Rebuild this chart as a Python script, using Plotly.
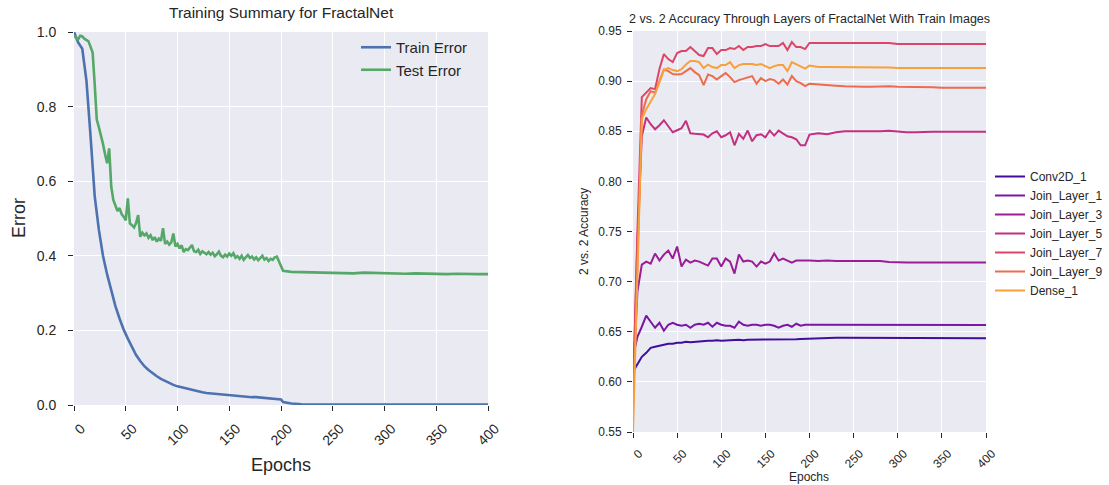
import plotly.graph_objects as go

# ---------------- Left chart data ----------------
train_epochs = list(range(0, 201, 4)) + [202] + list(range(210, 401, 10))
train_error = [1.0, 0.972, 0.955, 0.87, 0.72, 0.56, 0.47, 0.40, 0.35, 0.305,
               0.265, 0.232, 0.202, 0.178, 0.157, 0.134, 0.118, 0.104, 0.094, 0.085,
               0.077, 0.070, 0.064, 0.059, 0.054, 0.050, 0.047, 0.044, 0.041, 0.038,
               0.036, 0.034, 0.032, 0.031, 0.030, 0.029, 0.027, 0.026, 0.025, 0.024,
               0.023, 0.022, 0.022, 0.021, 0.021, 0.020, 0.019, 0.019, 0.018, 0.017,
               0.015, 0.008,
               0.004, 0.002, 0.0015, 0.0015, 0.001, 0.001, 0.001, 0.001, 0.001, 0.001,
               0.001, 0.001, 0.001, 0.001, 0.001, 0.001, 0.001, 0.001, 0.001, 0.001]

test_epochs = list(range(0, 203, 2)) + list(range(210, 401, 10))
test_error = [0.990, 0.985, 0.980, 0.990, 0.988, 0.982, 0.978, 0.975, 0.960, 0.945,
              0.860, 0.765, 0.745, 0.725, 0.700, 0.672, 0.648, 0.688, 0.585, 0.550,
              0.535, 0.520, 0.528, 0.512, 0.505, 0.495, 0.554, 0.487, 0.482, 0.476,
              0.488, 0.509, 0.451, 0.462, 0.455, 0.460, 0.448, 0.455, 0.442, 0.450,
              0.438, 0.446, 0.440, 0.474, 0.432, 0.438, 0.430, 0.436, 0.460, 0.425,
              0.432, 0.420, 0.428, 0.410, 0.418, 0.415, 0.422, 0.429, 0.412, 0.410,
              0.416, 0.405, 0.412, 0.408, 0.404, 0.410, 0.403, 0.408, 0.399, 0.404,
              0.411, 0.400, 0.396, 0.403, 0.398, 0.406, 0.400, 0.407, 0.395, 0.399,
              0.392, 0.400, 0.389, 0.396, 0.402, 0.394, 0.398, 0.390, 0.396, 0.388,
              0.395, 0.400, 0.390, 0.394, 0.386, 0.392, 0.389, 0.396, 0.398, 0.384,
              0.372, 0.360,
              0.357, 0.356, 0.355, 0.356, 0.354, 0.354, 0.353, 0.355, 0.354, 0.352,
              0.353, 0.352, 0.353, 0.352, 0.352, 0.351, 0.352, 0.351, 0.351, 0.351]

# ---------------- Right chart data ----------------
acc_epochs = list(range(0, 201, 5)) + list(range(210, 401, 10))
layer_names = ["Conv2D_1", "Join_Layer_1", "Join_Layer_3", "Join_Layer_5",
               "Join_Layer_7", "Join_Layer_9", "Dense_1"]

conv2d_1 = [0.610, 0.617, 0.625, 0.629, 0.634, 0.635, 0.636, 0.637, 0.638, 0.638,
            0.639, 0.639, 0.640, 0.6395, 0.640, 0.640, 0.641, 0.641, 0.641, 0.6415,
            0.641, 0.6415, 0.642, 0.6418, 0.642, 0.6415, 0.642, 0.642, 0.642, 0.6418,
            0.642, 0.6425, 0.642, 0.6425, 0.6425, 0.6425, 0.642, 0.6425, 0.6428, 0.643,
            0.643,
            0.6435, 0.6438, 0.644, 0.644, 0.644, 0.644, 0.6435, 0.6435, 0.6435, 0.6435,
            0.6435, 0.6435, 0.6435, 0.6435, 0.6435, 0.6435, 0.6435, 0.6435, 0.6435, 0.6435]

join_layer_1 = [0.625, 0.645, 0.655, 0.666, 0.660, 0.654, 0.659, 0.651, 0.657, 0.659,
                0.657, 0.656, 0.657, 0.654, 0.657, 0.658, 0.657, 0.659, 0.655, 0.659,
                0.657, 0.656, 0.656, 0.654, 0.660, 0.657, 0.656, 0.657, 0.657, 0.656,
                0.657, 0.657, 0.656, 0.654, 0.656, 0.657, 0.655, 0.658, 0.656, 0.657,
                0.657,
                0.657, 0.6568, 0.657, 0.657, 0.6568, 0.657, 0.657, 0.6568, 0.6568, 0.6568,
                0.6568, 0.6565, 0.6568, 0.6568, 0.6565, 0.6568, 0.6568, 0.6568, 0.6568, 0.6568]

join_layer_3 = [0.600, 0.690, 0.717, 0.720, 0.718, 0.728, 0.721, 0.727, 0.731, 0.723,
                0.735, 0.715, 0.722, 0.719, 0.721, 0.720, 0.718, 0.716, 0.723, 0.723,
                0.715, 0.723, 0.720, 0.708, 0.727, 0.720, 0.721, 0.720, 0.715, 0.720,
                0.718, 0.720, 0.728, 0.721, 0.723, 0.721, 0.719, 0.721, 0.721, 0.7215,
                0.721,
                0.7205, 0.721, 0.7205, 0.7205, 0.721, 0.7205, 0.7205, 0.7205, 0.7195, 0.719,
                0.719, 0.719, 0.719, 0.719, 0.7192, 0.7192, 0.719, 0.719, 0.719, 0.719]

join_layer_5 = [0.590, 0.740, 0.845, 0.8638, 0.857, 0.852, 0.856, 0.861, 0.855, 0.849,
                0.851, 0.853, 0.8605, 0.848, 0.8474, 0.847, 0.8467, 0.844, 0.848, 0.850,
                0.844, 0.846, 0.849, 0.836, 0.8474, 0.8424, 0.8507, 0.840, 0.846, 0.847,
                0.844, 0.8507, 0.8457, 0.8507, 0.848, 0.845, 0.844, 0.842, 0.836, 0.836,
                0.8467,
                0.848, 0.847, 0.849, 0.850, 0.850, 0.8495, 0.8495, 0.850, 0.8505, 0.8495,
                0.849, 0.849, 0.8495, 0.8495, 0.8495, 0.8495, 0.8495, 0.8495, 0.8495, 0.8495]

join_layer_7 = [0.580, 0.750, 0.884, 0.888, 0.893, 0.892, 0.912, 0.927, 0.922, 0.919,
                0.928, 0.930, 0.930, 0.934, 0.930, 0.926, 0.925, 0.933, 0.933, 0.927,
                0.931, 0.931, 0.933, 0.932, 0.935, 0.931, 0.934, 0.934, 0.935, 0.935,
                0.937, 0.935, 0.935, 0.935, 0.938, 0.931, 0.939, 0.934, 0.934, 0.932,
                0.938,
                0.938, 0.938, 0.938, 0.938, 0.9375, 0.9375, 0.938, 0.938, 0.938, 0.937,
                0.937, 0.9375, 0.9375, 0.9375, 0.937, 0.937, 0.9372, 0.9372, 0.937, 0.937]

join_layer_9 = [0.570, 0.730, 0.866, 0.882, 0.890, 0.8885, 0.900, 0.9115, 0.910, 0.907,
                0.9066, 0.907, 0.910, 0.913, 0.909, 0.906, 0.896, 0.9066, 0.905, 0.9016,
                0.905, 0.908, 0.904, 0.899, 0.901, 0.9026, 0.904, 0.905, 0.8974, 0.903,
                0.900, 0.902, 0.901, 0.8974, 0.9016, 0.8967, 0.905, 0.900, 0.898, 0.895,
                0.8974,
                0.897, 0.896, 0.8955, 0.895, 0.8945, 0.8945, 0.8945, 0.895, 0.895, 0.8945,
                0.8945, 0.894, 0.894, 0.894, 0.8935, 0.8935, 0.8935, 0.8935, 0.8935, 0.8935]

dense_1 = [0.550, 0.710, 0.862, 0.872, 0.880, 0.887, 0.899, 0.911, 0.913, 0.911,
           0.910, 0.912, 0.9165, 0.920, 0.920, 0.919, 0.913, 0.9165, 0.914, 0.913,
           0.916, 0.916, 0.919, 0.913, 0.916, 0.917, 0.917, 0.917, 0.916, 0.917,
           0.915, 0.913, 0.915, 0.916, 0.916, 0.910, 0.919, 0.917, 0.915, 0.9125,
           0.9155,
           0.914, 0.914, 0.914, 0.914, 0.914, 0.9138, 0.9138, 0.9135, 0.9135, 0.9132,
           0.9132, 0.9132, 0.913, 0.913, 0.913, 0.913, 0.913, 0.913, 0.913, 0.913]

layer_values = [conv2d_1, join_layer_1, join_layer_3, join_layer_5,
                join_layer_7, join_layer_9, dense_1]
layer_colors = ["#420c9f", "#7a16a6", "#9c1c98", "#c2307f", "#dc4565", "#ec6c4c", "#f8a03a"]

x_ticks = list(range(0, 401, 50))

FONT = "Arial, Liberation Sans, sans-serif"
TXT = "#262626"
W, H = 1109, 485

fig = go.Figure()

fig.add_trace(go.Scatter(x=train_epochs, y=train_error, mode="lines", name="Train Error",
                         line=dict(color="#4C72B0", width=2.6), xaxis="x", yaxis="y",
                         legend="legend"))
fig.add_trace(go.Scatter(x=test_epochs, y=test_error, mode="lines", name="Test Error",
                         line=dict(color="#55A868", width=2.6), xaxis="x", yaxis="y",
                         legend="legend"))

for name, vals, col in zip(layer_names, layer_values, layer_colors):
    fig.add_trace(go.Scatter(x=acc_epochs, y=vals, mode="lines", name=name,
                             line=dict(color=col, width=2.0), xaxis="x2", yaxis="y2",
                             legend="legend2"))

def px_x(p):
    return p / W

def px_y(p):
    return 1 - p / H

def axis_style(size, standoff=None, shift=None):
    d = dict(showgrid=True, gridcolor="white", gridwidth=1.3, zeroline=False,
             showline=False, ticks="outside", ticklen=5, tickwidth=1.3,
             tickcolor=TXT, automargin=False,
             tickfont=dict(size=size, color=TXT, family=FONT))
    if standoff is not None:
        d["ticklabelstandoff"] = standoff
    if shift is not None:
        d["ticklabelshift"] = shift
    return d

fig.update_layout(
    width=W, height=H,
    margin=dict(l=0, r=0, t=0, b=0, autoexpand=False),
    paper_bgcolor="white",
    plot_bgcolor="#EAEAF2",
    font=dict(family=FONT, color=TXT),
    xaxis=dict(domain=[px_x(74), px_x(488)], range=[0, 400], tickvals=x_ticks,
               tickangle=-45, anchor="y", **axis_style(14, standoff=4, shift=7)),
    yaxis=dict(domain=[px_y(405), px_y(32)], range=[0, 1.0], tickvals=[0, 0.2, 0.4, 0.6, 0.8, 1.0],
               tickformat=".1f", anchor="x", **axis_style(14, standoff=9)),
    xaxis2=dict(domain=[px_x(633), px_x(986)], range=[0, 400], tickvals=x_ticks,
                tickangle=-45, anchor="y2", **axis_style(12, standoff=4, shift=6)),
    yaxis2=dict(domain=[px_y(432), px_y(31)], range=[0.55, 0.95],
                tickvals=[0.55, 0.60, 0.65, 0.70, 0.75, 0.80, 0.85, 0.90, 0.95],
                tickformat=".2f", anchor="x2", **axis_style(12, standoff=3)),
    legend=dict(x=px_x(356), y=px_y(31), xanchor="left", yanchor="top",
                bgcolor="rgba(0,0,0,0)", font=dict(size=15, color=TXT, family=FONT),
                tracegroupgap=0, itemwidth=30),
    legend2=dict(x=px_x(990), y=px_y(162), xanchor="left", yanchor="top",
                 bgcolor="rgba(0,0,0,0)", font=dict(size=12, color=TXT, family=FONT),
                 tracegroupgap=0, itemwidth=30),
    showlegend=True,
)

annotations = [
    dict(text="Training Summary for FractalNet", x=px_x(281), y=px_y(12),
         font=dict(size=15.5, color=TXT, family=FONT)),
    dict(text="Epochs", x=px_x(281), y=px_y(465), font=dict(size=18, color=TXT, family=FONT)),
    dict(text="Error", x=px_x(19), y=px_y(218), textangle=-90,
         font=dict(size=18, color=TXT, family=FONT)),
    dict(text="2 vs. 2 Accuracy Through Layers of FractalNet With Train Images",
         x=px_x(809), y=px_y(19), font=dict(size=12.5, color=TXT, family=FONT)),
    dict(text="Epochs", x=px_x(809), y=px_y(477), font=dict(size=12, color=TXT, family=FONT)),
    dict(text="2 vs. 2 Accuracy", x=px_x(584), y=px_y(232), textangle=-90,
         font=dict(size=12, color=TXT, family=FONT)),
]
for a in annotations:
    a.update(xref="paper", yref="paper", showarrow=False, xanchor="center", yanchor="middle")
fig.update_layout(annotations=annotations)

fig.write_html("out.html",
               config={"displayModeBar": False},
               post_script="document.body.style.margin='0px';document.body.style.overflow='hidden';")
